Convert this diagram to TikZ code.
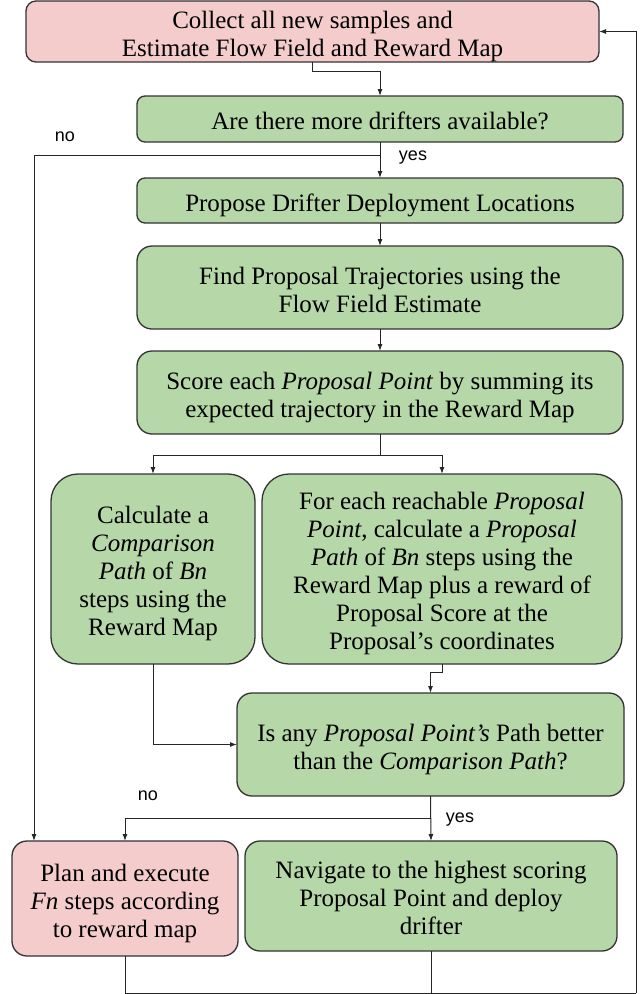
\documentclass[tikz,border=0pt]{standalone}
\usepackage{fontspec}
\setmainfont{Liberation Serif}
\newfontfamily\labelfont{Liberation Sans}
\usetikzlibrary{arrows.meta,calc}

\definecolor{pinkfill}{HTML}{F4CCCC}
\definecolor{greenfill}{HTML}{B6D7A8}
\definecolor{edge}{HTML}{333333}

% centred lines of box text, drawn a little below the box centre
\newcommand{\boxtext}[1]{\raisebox{-5pt}[\height][\depth]{\begin{tabular}{@{}c@{}}#1\end{tabular}}}

\tikzset{
  box/.style={draw=edge, line width=1.3pt, rectangle, align=center,
    inner sep=0pt, outer sep=0pt, font=\fontsize{25}{28}\selectfont},
  stopbox/.style={box, fill=pinkfill},
  workbox/.style={box, fill=greenfill},
  link/.style={draw=black!85, line width=1pt},
  arr/.style={link, -{Latex[length=7pt,width=5pt]}},
  branchlabel/.style={font=\labelfont\fontsize{18}{20}\selectfont, inner sep=0pt}
}

\begin{document}
\begin{tikzpicture}[x=1pt,y=-1pt]
\useasboundingbox (0,0) rectangle (644,994);

% process boxes
\node[stopbox, rounded corners=10pt, minimum width=573pt, minimum height=61pt]
  (collect) at (312.5,31.5) {\boxtext{Collect all new samples and\\Estimate Flow Field and Reward Map}};
\node[workbox, rounded corners=8pt, minimum width=486pt, minimum height=46pt]
  (more) at (380,119) {\boxtext{Are there more drifters available?}};
\node[workbox, rounded corners=8pt, minimum width=486pt, minimum height=45pt]
  (propose) at (380,200.5) {\boxtext{Propose Drifter Deployment Locations}};
\node[workbox, rounded corners=15pt, minimum width=486pt, minimum height=83pt]
  (find) at (380,287.5) {\boxtext{Find Proposal Trajectories using the\\Flow Field Estimate}};
\node[workbox, rounded corners=15pt, minimum width=486pt, minimum height=83pt]
  (score) at (380,392.5) {\boxtext{Score each \textit{Proposal Point} by summing its\\expected trajectory in the Reward Map}};
\node[workbox, rounded corners=27pt, minimum width=204pt, minimum height=190pt]
  (compare) at (153,569) {\boxtext{Calculate a\\\textit{Comparison}\\\textit{Path} of \textit{Bn}\\steps using the\\Reward Map}};
\node[workbox, rounded corners=27pt, minimum width=360pt, minimum height=190pt]
  (each) at (442,569) {\boxtext{For each reachable \textit{Proposal}\\\textit{Point}, calculate a \textit{Proposal}\\\textit{Path} of \textit{Bn} steps using the\\Reward Map plus a reward of\\Proposal Score at the\\Proposal's coordinates}};
\node[workbox, rounded corners=15pt, minimum width=387pt, minimum height=103pt]
  (better) at (430.5,744.5) {\boxtext{Is any \textit{Proposal Point's} Path better\\than the \textit{Comparison Path}?}};
\node[stopbox, rounded corners=15pt, minimum width=226pt, minimum height=115pt]
  (plan) at (125,898.5) {\boxtext{Plan and execute\\\textit{Fn} steps according\\to reward map}};
\node[workbox, rounded corners=15pt, minimum width=372pt, minimum height=110pt]
  (navigate) at (431,896) {\boxtext{Navigate to the highest scoring\\Proposal Point and deploy\\drifter}};

% junction points of the connectors
\coordinate (moresplit) at ($(more.south)+(0,13)$);
\coordinate (scoresplit) at ($(score.south)+(0,21)$);
\coordinate (bettersplit) at ($(better.south)+(0,22)$);
\coordinate (noentry) at ($(plan.north west)+(22,0)$);
\coordinate (loopcorner) at (636,993);
\coordinate (loopfoot) at (plan.south |- loopcorner);

% main flow
\draw[arr] (collect.south) -- ++(0,9.5) -| (more.north);
\draw[arr] (more.south) -- (propose.north);
\draw[arr] (propose.south) -- (find.north);
\draw[arr] (find.south) -- (score.north);
\draw[link] (score.south) -- (scoresplit);
\draw[arr] (scoresplit) -| (compare.north);
\draw[arr] (scoresplit) -| (each.north);
\draw[arr] (each.south) -- ++(0,8) -| (better.north);
\draw[arr] (compare.south) |- (better.west);
\draw[arr] (better.south) -- (navigate.north);
\draw[arr] (bettersplit) -| (plan.north);

% no more drifters
\draw[arr] (moresplit) -| (noentry);

% loop back to the start
\draw[link] (plan.south) -- (loopfoot) -- (loopcorner);
\draw[link] (navigate.south) -- (navigate.south |- loopcorner);
\draw[arr] (loopcorner) |- (collect.east);

% branch labels
\node[branchlabel] (no1) at (65,137) {no};
\node[branchlabel] (yes1) at (413,158) {yes};
\node[branchlabel] (no2) at (148,796) {no};
\node[branchlabel] (yes2) at (460,820) {yes};
\end{tikzpicture}
\end{document}
